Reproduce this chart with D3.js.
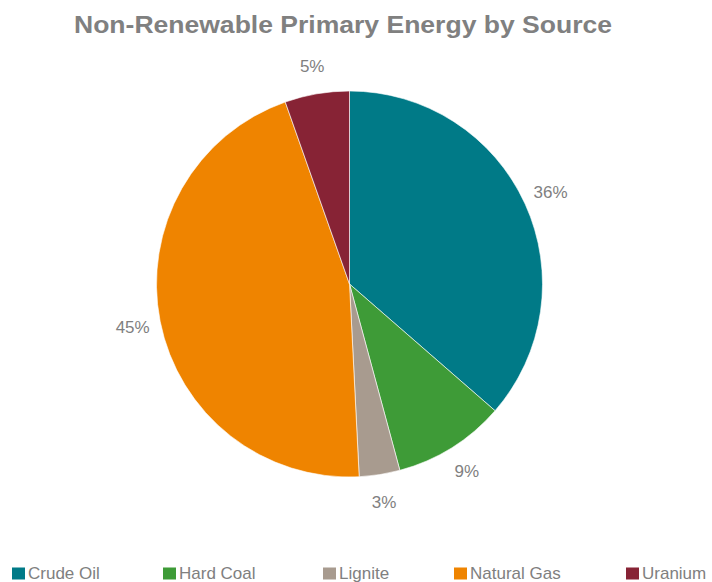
<!DOCTYPE html>
<html>
<head>
<meta charset="utf-8">
<script src="https://cdn.jsdelivr.net/npm/d3@7"></script>
<style>
  html, body { margin: 0; padding: 0; background: #fff; }
  svg { display: block; font-family: "Liberation Sans", Arial, sans-serif; }
</style>
</head>
<body>
<svg id="chart" width="712" height="582"></svg>
<script>
// Share of non-renewable primary energy, percent
const sources = ["Crude Oil", "Hard Coal", "Lignite", "Natural Gas", "Uranium"];
const shares = [36.4, 9.4, 3.4, 45.4, 5.4];
const colors = ["#007A87", "#3E9B37", "#A89B8F", "#EF8400", "#872335"];
const legendX = [12, 163, 323, 454, 626];

const svg = d3.select("#chart");
const cx = 349.5, cy = 284, radius = 193;

svg.append("text")
  .attr("x", 74).attr("y", 33)
  .attr("font-size", 24).attr("font-weight", "bold")
  .attr("textLength", 538).attr("lengthAdjust", "spacingAndGlyphs")
  .attr("fill", "#808080")
  .text("Non-Renewable Primary Energy by Source");

const data = sources.map((s, i) => ({ name: s, value: shares[i], color: colors[i] }));
const pie = d3.pie().value(d => d.value).sort(null);
const arcs = pie(data);
const arc = d3.arc().innerRadius(0).outerRadius(radius);
const labelArc = d3.arc().innerRadius(221).outerRadius(221);

const g = svg.append("g").attr("transform", `translate(${cx},${cy})`);
g.selectAll("path").data(arcs).join("path")
  .attr("d", arc)
  .attr("fill", d => d.data.color)
  .attr("stroke", "#ffffff")
  .attr("stroke-width", 0.6);

g.selectAll("text.pct").data(arcs).join("text")
  .attr("class", "pct")
  .attr("transform", d => `translate(${labelArc.centroid(d)})`)
  .attr("text-anchor", "middle")
  .attr("dy", "0.35em")
  .attr("font-size", 17)
  .attr("fill", "#808080")
  .text(d => Math.round(d.data.value) + "%");

const legend = svg.append("g").attr("transform", "translate(0,573.5)");
const items = legend.selectAll("g").data(data).join("g")
  .attr("transform", (d, i) => `translate(${legendX[i]},0)`);
items.append("rect")
  .attr("x", 0).attr("y", -6).attr("width", 13).attr("height", 12)
  .attr("fill", d => d.color);
items.append("text")
  .attr("x", 16).attr("y", 0).attr("dy", "0.35em")
  .attr("font-size", 17).attr("fill", "#808080")
  .text(d => d.name);
</script>
</body>
</html>
